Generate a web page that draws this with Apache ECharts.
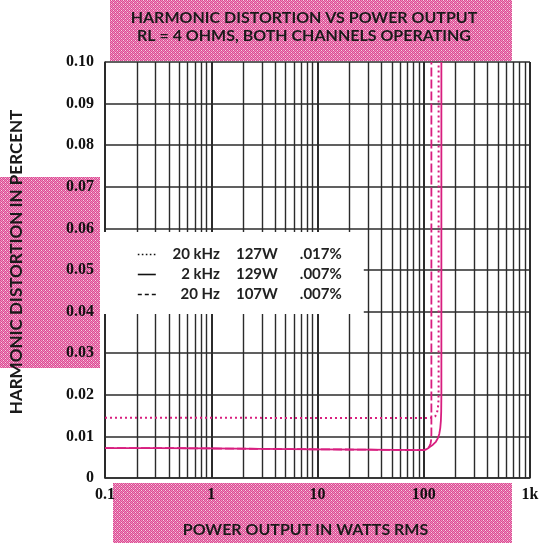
<!DOCTYPE html>
<html>
<head>
<meta charset="utf-8">
<script src="https://cdn.jsdelivr.net/npm/echarts@6/dist/echarts.min.js"></script>
<style>html,body{margin:0;padding:0;background:#fff}#c{width:542px;height:543px}</style>
</head>
<body>
<div id="c"></div>
<script>
// ---- data ----
var freqNames = ['20 kHz', '2 kHz', '20 Hz'];
var powerRatings = ['127W', '129W', '107W'];
var thdRatings = ['.017%', '.007%', '.007%'];

var watts20k = [0.1, 1, 10, 100, 121, 128, 133, 136, 137.5, 138, 138];
var thd20k   = [0.0145, 0.0145, 0.0144, 0.0144, 0.0145, 0.0148, 0.0156, 0.0168, 0.0185, 0.021, 0.10];

var watts2k = [0.1, 0.3, 1, 3, 10, 30, 100, 106, 112, 122, 130, 136, 140, 143, 145, 146, 146.5, 146.5];
var thd2k   = [0.0072, 0.0072, 0.0071, 0.0070, 0.0069, 0.0068, 0.0067, 0.0069, 0.0073, 0.0080, 0.0087, 0.0096, 0.0106, 0.0120, 0.0138, 0.0160, 0.020, 0.10];

var watts20 = [0.1, 0.3, 1, 3, 10, 30, 100, 104, 109, 113, 116, 117.5, 118, 118];
var thd20   = [0.0072, 0.0072, 0.0071, 0.0070, 0.0069, 0.0068, 0.0067, 0.0068, 0.0071, 0.0076, 0.0083, 0.0092, 0.0105, 0.10];

var xTickLabels = {0.1: '0.1', 1: '1', 10: '10', 100: '100', 1000: '1k'};
var minorGridWatts = [0.2,0.3,0.4,0.5,0.6,0.7,0.8,0.9, 2,3,4,5,6,7,8,9, 20,30,40,50,60,70,80,90, 200,300,400,500,600,700,800,900];

// ---- chart ----
function pairs(xs, ys) { return xs.map(function (x, i) { return [x, ys[i]]; }); }

// halftone-like pink texture
var pc = document.createElement('canvas');
pc.width = 4; pc.height = 4;
var g = pc.getContext('2d');
g.fillStyle = '#ec8dbb'; g.fillRect(0, 0, 4, 4);
g.fillStyle = '#dc4a94';
[[0,0],[2,0],[1,1],[3,1],[0,2],[2,2],[1,3],[3,3]].forEach(function (p) { g.fillRect(p[0], p[1], 1, 1); });
g.fillStyle = '#f7d0e2'; g.fillRect(1, 2, 1, 1); g.fillRect(3, 0, 1, 1);
var pink = {image: pc, repeat: 'repeat'};

var curve = '#d81e7f';
var gridCol = '#2b2b2b';
var labelsByName = {};
freqNames.forEach(function (n, i) { labelsByName[n] = i; });
var hiddenMark = {color: 'rgba(0,0,0,0)', borderWidth: 0, opacity: 0};
var legFont = {fontFamily: 'Lato', fontWeight: 'bold', fontSize: 15, color: '#222'};

var chart = echarts.init(document.getElementById('c'), null, {renderer: 'canvas'});
chart.setOption({
  animation: false,
  backgroundColor: '#fff',
  graphic: [
    {type: 'rect', z: -10, shape: {x: 110, y: 0, width: 402, height: 61}, style: {fill: pink}, silent: true},
    {type: 'rect', z: -10, shape: {x: 113, y: 483, width: 399, height: 60}, style: {fill: pink}, silent: true},
    {type: 'rect', z: -10, shape: {x: 0, y: 177, width: 100, height: 191}, style: {fill: pink}, silent: true},
    {type: 'text', x: 304, y: 18, style: {text: 'HARMONIC DISTORTION VS POWER OUTPUT', fill: '#1a1a1a',
      font: 'bold 16px Lato', textAlign: 'center', textVerticalAlign: 'middle'}},
    {type: 'text', x: 304, y: 36, style: {text: 'RL = 4 OHMS, BOTH CHANNELS OPERATING', fill: '#1a1a1a',
      font: 'bold 16px Lato', textAlign: 'center', textVerticalAlign: 'middle'}}
  ],
  grid: {left: 103, right: 12, top: 62, bottom: 62},
  xAxis: {
    type: 'log', logBase: 10, min: 0.1, max: 1000,
    name: 'POWER OUTPUT IN WATTS RMS', nameLocation: 'middle', nameGap: 44,
    nameTextStyle: {fontFamily: 'Lato', fontWeight: 'bold', fontSize: 16, color: '#1a1a1a', padding: [0, 24, 0, 0]},
    axisLine: {show: true, lineStyle: {color: gridCol, width: 1.5}},
    axisTick: {show: false},
    axisLabel: {margin: 9, fontFamily: 'Liberation Serif', fontWeight: 'bold', fontSize: 16, color: '#111',
      formatter: function (v) { var k = Math.round(v * 10) / 10; return xTickLabels[k] !== undefined ? xTickLabels[k] : ''; }},
    splitLine: {show: true, lineStyle: {color: gridCol, width: 2}}
  },
  yAxis: {
    type: 'value', min: 0, max: 0.10, interval: 0.01,
    name: 'HARMONIC DISTORTION IN PERCENT', nameLocation: 'middle', nameGap: 80, nameRotate: 90,
    nameTextStyle: {fontFamily: 'Lato', fontWeight: 'bold', fontSize: 17, color: '#1a1a1a', padding: [0, 0, 0, 16]},
    axisLine: {show: true, lineStyle: {color: gridCol, width: 1.5}},
    axisTick: {show: false},
    axisLabel: {margin: 11, fontFamily: 'Liberation Serif', fontWeight: 'bold', fontSize: 16, color: '#111',
      padding: [6, 0, 0, 0],
      formatter: function (v) { return v === 0 ? '0' : v.toFixed(2); }},
    splitLine: {show: true, lineStyle: {color: gridCol, width: 1.5}}
  },
  legend: {
    orient: 'vertical', left: 103, top: 232,
    backgroundColor: '#fff', padding: [15, 22, 12, 34],
    itemWidth: 18, itemHeight: 14, itemGap: 5,
    data: [
      {name: freqNames[0], itemStyle: hiddenMark, lineStyle: {color: '#111', type: [1.6, 2.4], width: 1.6}},
      {name: freqNames[1], itemStyle: hiddenMark, lineStyle: {color: '#111', type: 'solid', width: 1.6}},
      {name: freqNames[2], itemStyle: hiddenMark, lineStyle: {color: '#111', type: [4, 3], width: 1.6}}
    ],
    formatter: function (name) {
      var i = labelsByName[name];
      return '{f|' + name + '}{w|' + powerRatings[i] + '}{p|' + thdRatings[i] + '}';
    },
    textStyle: {
      fontFamily: 'Lato', fontWeight: 'bold', fontSize: 15, color: '#222',
      rich: {
        f: Object.assign({width: 59, align: 'right'}, legFont),
        w: Object.assign({width: 58, align: 'right'}, legFont),
        p: Object.assign({width: 64, align: 'right'}, legFont)
      }
    }
  },
  series: [
    {
      name: freqNames[2], type: 'line', symbol: 'none', smooth: false,
      data: pairs(watts20, thd20),
      lineStyle: {color: curve, width: 1.8, type: [9, 3]}, itemStyle: {color: curve},
      markLine: {
        silent: true, symbol: 'none', z: 1, animation: false,
        label: {show: false},
        lineStyle: {color: gridCol, width: 1.4, type: 'solid'},
        emphasis: {disabled: true},
        data: minorGridWatts.map(function (w) { return {xAxis: w}; })
      }
    },
    {
      name: freqNames[0], type: 'line', symbol: 'none', smooth: false,
      data: pairs(watts20k, thd20k),
      lineStyle: {color: curve, width: 2, type: [2, 3]}, itemStyle: {color: curve}
    },
    {
      name: freqNames[1], type: 'line', symbol: 'none', smooth: false,
      data: pairs(watts2k, thd2k),
      lineStyle: {color: curve, width: 1.8, type: 'solid'}, itemStyle: {color: curve}
    }
  ]
});
</script>
</body>
</html>
